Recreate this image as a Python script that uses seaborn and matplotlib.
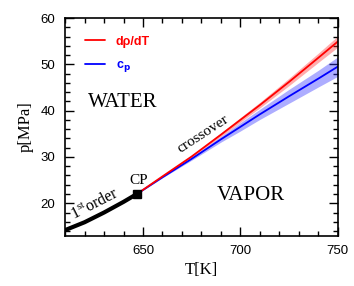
import numpy as np
import pandas as pd
import matplotlib
matplotlib.use("Agg")
import matplotlib.pyplot as plt
import seaborn as sns
from matplotlib.ticker import MultipleLocator

# first-order (coexistence) line up to the critical point
T_first = [610, 620, 630, 640, 647.1]
p_first = [14.2, 15.9, 18.0, 20.3, 22.06]

# crossover lines beyond CP
T_cross = [647.1, 660, 675, 690, 700, 710, 725, 740, 750]
p_drho = [22.06, 25.8, 30.1, 34.8, 38.0, 41.2, 46.2, 51.4, 54.9]
p_cp = [22.06, 25.6, 29.6, 33.8, 36.5, 39.2, 43.1, 46.9, 49.5]
err_drho = [0.0, 0.1, 0.2, 0.4, 0.5, 0.6, 0.8, 1.0, 1.2]
err_cp = [0.0, 0.1, 0.3, 0.6, 0.9, 1.1, 1.5, 1.8, 2.1]

cp_T, cp_p = 647.1, 22.06

sns.set_style("ticks")
plt.rcParams["font.family"] = ["Liberation Sans", "DejaVu Sans"]
plt.rcParams["mathtext.fontset"] = "custom"
plt.rcParams["mathtext.rm"] = "Liberation Serif"
for k in ["text.color", "axes.labelcolor", "xtick.color", "ytick.color",
          "axes.edgecolor"]:
    plt.rcParams[k] = "black"

df = pd.DataFrame({"T": T_cross, "drho": p_drho, "cp": p_cp,
                   "e_drho": err_drho, "e_cp": err_cp})

fig = plt.figure(figsize=(3.54, 2.86), dpi=100)
ax = fig.add_axes([0.184, 0.176, 0.77, 0.761])

lo = df["cp"] - df["e_cp"]
hi = df["cp"] + df["e_cp"]
ax.fill_between(df["T"], lo, hi, color="#3333ff", alpha=0.4, lw=0)
lo = df["drho"] - df["e_drho"]
hi = df["drho"] + df["e_drho"]
ax.fill_between(df["T"], lo, hi, color="#ff3333", alpha=0.4, lw=0)

sns.lineplot(data=df, x="T", y="cp", color="#0000ff", lw=1.3, ax=ax,
             label=r"c$_{\mathbf{p}}$")
sns.lineplot(data=df, x="T", y="drho", color="#ff0000", lw=1.3, ax=ax,
             label="d\u03c1/dT")
sns.lineplot(x=T_first, y=p_first, color="black", lw=3, ax=ax, legend=False)
ax.plot([cp_T], [cp_p], marker="s", color="black", ms=6, ls="none")

ax.set_xlim(610, 750)
ax.set_ylim(13, 60)
ax.xaxis.set_major_locator(MultipleLocator(50))
ax.xaxis.set_minor_locator(MultipleLocator(10))
ax.yaxis.set_major_locator(MultipleLocator(10))
ax.yaxis.set_minor_locator(MultipleLocator(2))
ax.tick_params(which="both", direction="in", top=True, right=True,
               labelsize=9.5, width=1)
ax.tick_params(which="major", length=6.5, pad=7)
ax.tick_params(which="minor", length=3.3)
for s in ax.spines.values():
    s.set_linewidth(1.2)

ax.set_xlabel("T[K]", family="Liberation Serif", fontsize=12, labelpad=3)
ax.set_ylabel("p[MPa]", family="Liberation Serif", fontsize=12, labelpad=5)

ax.text(639.5, 41.7, "WATER", family="Liberation Serif", fontsize=15,
        ha="center", va="center")
ax.text(705.5, 21.6, "VAPOR", family="Liberation Serif", fontsize=15,
        ha="center", va="center")
ax.text(647.6, 24.9, "CP", family="Liberation Serif", fontsize=11,
        ha="center", va="center")
ax.text(625.5, 19.8, r"1$^{\rm st}$order", family="Liberation Serif",
        fontsize=11.5, ha="center", va="center", rotation=27)
ax.text(681, 35.0, "crossover", family="Liberation Serif", fontsize=11,
        ha="center", va="center", rotation=33)

h, l = ax.get_legend_handles_labels()
leg = ax.legend(h[::-1], l[::-1], loc="upper left",
                bbox_to_anchor=(0.03, 0.97), frameon=False,
                handlelength=1.6, handletextpad=0.9, labelspacing=0.9,
                labelcolor="linecolor", prop={"weight": "bold", "size": 9})

fig.savefig("out.png", dpi=100)
